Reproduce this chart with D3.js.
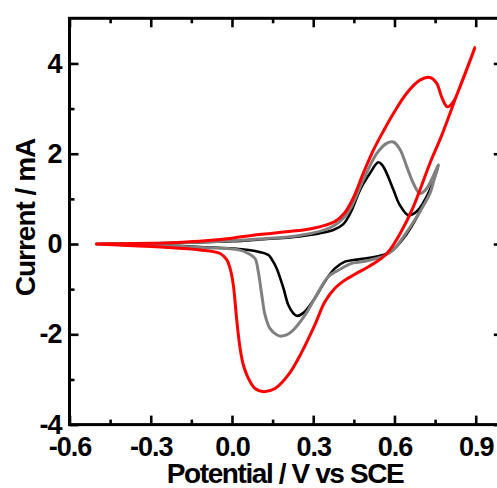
<!DOCTYPE html>
<html>
<head>
<meta charset="utf-8">
<script src="https://cdn.jsdelivr.net/npm/d3@7"></script>
<style>
  html, body { margin: 0; padding: 0; background: #fff; }
  svg { display: block; }
  text { font-family: "Liberation Sans", Arial, sans-serif; font-weight: bold; }
</style>
</head>
<body>
<div id="chart"></div>
<script>
// Cyclic voltammograms: [potential (V vs SCE), current (mA)] along each scan
const blackCV = [
  [-0.5, 0.0], [-0.4, 0.005], [-0.3, 0.012], [-0.2, 0.025], [-0.1, 0.04], [0.0, 0.06],
  [0.1, 0.1], [0.25, 0.17], [0.374, 0.31], [0.411, 0.44], [0.44, 0.72], [0.473, 1.2],
  [0.51, 1.57], [0.54, 1.81], [0.555, 1.75], [0.571, 1.57], [0.596, 1.2], [0.62, 0.86],
  [0.651, 0.64], [0.682, 0.72], [0.731, 1.2], [0.762, 1.75],
  [0.745, 1.42], [0.72, 1.05], [0.69, 0.68], [0.66, 0.36], [0.63, 0.1], [0.6, -0.1],
  [0.57, -0.22], [0.53, -0.28], [0.49, -0.32], [0.454, -0.35], [0.417, -0.39],
  [0.38, -0.54], [0.343, -0.83], [0.306, -1.2], [0.263, -1.53], [0.239, -1.59],
  [0.226, -1.53], [0.208, -1.35], [0.19, -0.98], [0.165, -0.54], [0.145, -0.32],
  [0.134, -0.24], [0.085, -0.155], [0.025, -0.11], [-0.1, -0.07], [-0.2, -0.045],
  [-0.3, -0.025], [-0.4, -0.01], [-0.5, 0.0]
];

const grayCV = [
  [-0.5, 0.0], [-0.4, 0.005], [-0.3, 0.012], [-0.2, 0.025], [-0.1, 0.045], [0.0, 0.07],
  [0.1, 0.11], [0.25, 0.19], [0.362, 0.36], [0.424, 0.66], [0.485, 1.42], [0.534, 2.0],
  [0.571, 2.23], [0.596, 2.26], [0.62, 2.1], [0.645, 1.72], [0.67, 1.34], [0.694, 1.12],
  [0.715, 1.2], [0.735, 1.4], [0.762, 1.75],
  [0.745, 1.4], [0.731, 1.12], [0.682, 0.6], [0.633, 0.16], [0.596, -0.13], [0.56, -0.27],
  [0.534, -0.32], [0.473, -0.4], [0.442, -0.43], [0.393, -0.58], [0.356, -0.72],
  [0.319, -1.06], [0.27, -1.57], [0.22, -1.94], [0.184, -2.04], [0.165, -2.01],
  [0.14, -1.87], [0.122, -1.57], [0.11, -1.13], [0.097, -0.61], [0.085, -0.32],
  [0.06, -0.21], [0.025, -0.13], [-0.1, -0.08], [-0.2, -0.05], [-0.3, -0.03],
  [-0.4, -0.01], [-0.5, 0.0]
];

const redCV = [
  [-0.5, 0.0], [-0.4, 0.006], [-0.3, 0.015], [-0.2, 0.035], [-0.1, 0.07], [0.0, 0.13],
  [0.1, 0.21], [0.2, 0.27], [0.3, 0.35], [0.38, 0.5], [0.415, 0.68], [0.448, 1.02],
  [0.485, 1.57], [0.522, 2.08], [0.559, 2.5], [0.596, 2.89], [0.645, 3.34], [0.694, 3.63],
  [0.731, 3.69], [0.756, 3.56], [0.774, 3.26], [0.795, 3.04], [0.817, 3.15],
  [0.842, 3.48], [0.897, 4.35],
  [0.862, 3.8], [0.83, 3.3], [0.774, 2.4], [0.731, 1.79], [0.67, 0.83], [0.62, 0.22],
  [0.583, -0.13], [0.555, -0.3], [0.51, -0.48], [0.454, -0.67], [0.417, -0.8],
  [0.38, -0.98], [0.343, -1.28], [0.306, -1.79], [0.258, -2.39], [0.208, -2.9],
  [0.159, -3.2], [0.116, -3.27], [0.085, -3.2], [0.06, -2.97], [0.042, -2.68],
  [0.03, -2.31], [0.017, -1.65], [0.005, -0.91], [-0.007, -0.54], [-0.019, -0.35],
  [-0.044, -0.21], [-0.118, -0.13], [-0.25, -0.07], [-0.365, -0.04], [-0.5, 0.0]
];

// Axis ticks and labels
const xMajorTicks = [-0.6, -0.3, 0.0, 0.3, 0.6, 0.9];
const xMinorTicks = [-0.45, -0.15, 0.15, 0.45, 0.75];
const xTickLabels = ["-0.6", "-0.3", "0.0", "0.3", "0.6", "0.9"];
const yMajorTicks = [-4, -2, 0, 2, 4];
const yMinorTicks = [-3, -1, 1, 3];
const yTickLabels = ["-4", "-2", "0", "2", "4"];

const xDomain = [-0.6, 1.0];
const yDomain = [-4, 5];

const width = 497, height = 488;
const margin = { left: 69.5, right: -5.8, top: 18.3, bottom: 63.4 };

const svg = d3.select("#chart").append("svg")
  .attr("width", width).attr("height", height);

const x = d3.scaleLinear().domain(xDomain).range([margin.left, width - margin.right]);
const y = d3.scaleLinear().domain(yDomain).range([height - margin.bottom, margin.top]);

const line = d3.line()
  .x(d => x(d[0])).y(d => y(d[1]))
  .curve(d3.curveCatmullRom.alpha(0.5));

const series = [
  { data: blackCV, color: "#000000", w: 2.6 },
  { data: grayCV, color: "#808080", w: 3 },
  { data: redCV, color: "#ff0000", w: 3 }
];

svg.append("g").selectAll("path").data(series).join("path")
  .attr("d", s => line(s.data))
  .attr("fill", "none")
  .attr("stroke", s => s.color)
  .attr("stroke-width", s => s.w)
  .attr("stroke-linejoin", "round")
  .attr("stroke-linecap", "round");

// Axes with inward ticks on all four sides
function styleAxis(g) {
  g.select(".domain").remove();
  g.selectAll(".tick line").attr("stroke", "#000").attr("stroke-width", 2.6);
  g.selectAll(".tick text")
    .attr("fill", "#000")
    .style("font-size", "27px")
    .style("letter-spacing", "-1px");
}

const y0 = height - margin.bottom, yTop = margin.top;
const x0 = margin.left, xRight = width - margin.right;

svg.append("g").attr("transform", `translate(0,${y0})`)
  .call(d3.axisBottom(x).tickValues(xMajorTicks).tickFormat((d, i) => xTickLabels[i])
    .tickSize(-9).tickPadding(12))
  .call(styleAxis);
svg.append("g").attr("transform", `translate(0,${y0})`)
  .call(d3.axisBottom(x).tickValues(xMinorTicks).tickFormat("").tickSize(-5))
  .call(styleAxis);
svg.append("g").attr("transform", `translate(0,${yTop})`)
  .call(d3.axisTop(x).tickValues(xMajorTicks).tickFormat("").tickSize(-9))
  .call(styleAxis);
svg.append("g").attr("transform", `translate(0,${yTop})`)
  .call(d3.axisTop(x).tickValues(xMinorTicks).tickFormat("").tickSize(-5))
  .call(styleAxis);

svg.append("g").attr("transform", `translate(${x0},0)`)
  .call(d3.axisLeft(y).tickValues(yMajorTicks).tickFormat((d, i) => yTickLabels[i])
    .tickSize(-9).tickPadding(8))
  .call(styleAxis);
svg.append("g").attr("transform", `translate(${x0},0)`)
  .call(d3.axisLeft(y).tickValues(yMinorTicks).tickFormat("").tickSize(-5))
  .call(styleAxis);
svg.append("g").attr("transform", `translate(${xRight},0)`)
  .call(d3.axisRight(y).tickValues(yMajorTicks).tickFormat("").tickSize(-9))
  .call(styleAxis);
svg.append("g").attr("transform", `translate(${xRight},0)`)
  .call(d3.axisRight(y).tickValues(yMinorTicks).tickFormat("").tickSize(-5))
  .call(styleAxis);

// Plot frame
svg.append("rect")
  .attr("x", x0).attr("y", yTop)
  .attr("width", xRight - x0).attr("height", y0 - yTop)
  .attr("fill", "none").attr("stroke", "#000").attr("stroke-width", 3);

// Axis titles
svg.append("text")
  .attr("x", 285).attr("y", 483)
  .attr("text-anchor", "middle")
  .style("font-size", "28px").style("letter-spacing", "-1.4px")
  .text("Potential / V vs SCE");

svg.append("text")
  .attr("transform", "translate(35,217.5) rotate(-90)")
  .attr("text-anchor", "middle")
  .style("font-size", "28px").style("letter-spacing", "-1px")
  .text("Current / mA");
</script>
</body>
</html>
